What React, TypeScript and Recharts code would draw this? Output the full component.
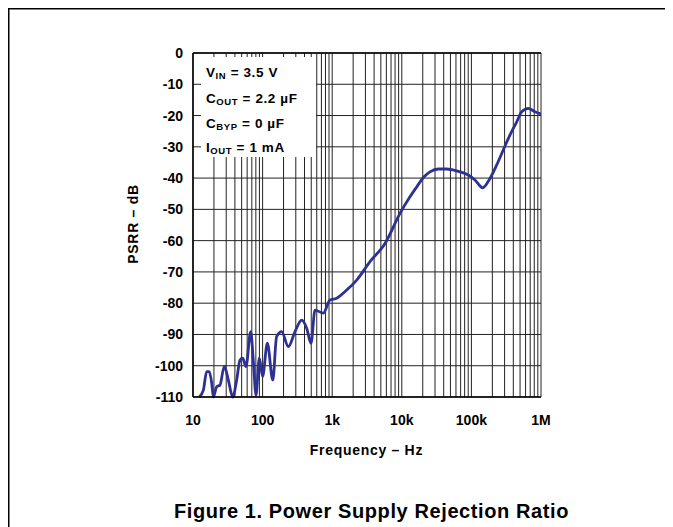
import React from "react";
import { LineChart, Line, XAxis, YAxis, CartesianGrid, ReferenceLine } from "recharts";

// values (Hz, dB)
const freqHz = [
  12.3, 14.1, 15.7, 17.1, 18.6, 19.6, 21.9, 24.4, 28.2, 32.2, 37.2, 42.4, 47.3, 51.8, 57.7,
  67.4, 73.5, 80.4, 89.7, 100, 117, 140, 159, 188, 234, 292, 364, 430, 496, 566, 745, 929,
  1160, 1616, 2250, 3490, 5740, 9420, 13100, 16400, 20400, 25400, 33500, 44200, 61500,
  90200, 112700, 145000, 185000, 231000, 287000, 359000, 448000, 528000, 658000, 820000,
  1000000,
];
const psrrDb = [
  -110, -107.8, -101.9, -101.9, -105.6, -110, -106.7, -106.2, -100.1, -104.6, -110, -104.6,
  -98.2, -97.6, -100.3, -89.1, -98.2, -109.4, -97.6, -103.5, -92.8, -104.6, -90.7, -89.1,
  -93.9, -89.1, -85.4, -88, -92.8, -82.2, -83.2, -79, -78.4, -75.8, -72.6, -66.7, -60.9,
  -51.3, -46, -42.8, -39.8, -38, -37.1, -37.1, -37.7, -39, -40.6, -43.1, -40.1, -35.8, -31,
  -26.2, -22, -18.8, -17.7, -18.8, -19.5,
];

const freqTicks = [10, 100, 1000, 10000, 100000, 1000000];
const freqTickLabels = ["10", "100", "1k", "10k", "100k", "1M"];
const psrrTicks = [0, -10, -20, -30, -40, -50, -60, -70, -80, -90, -100, -110];
const gridMultipliers = [1, 2, 3, 4, 5, 6, 7, 8, 9];

const data = freqHz.map((f, i) => ({ f, psrr: psrrDb[i] }));
const gridFreqs = freqTicks
  .slice(0, -1)
  .flatMap((d) => gridMultipliers.map((m) => d * m))
  .concat(freqTicks[freqTicks.length - 1]);

const font = "'Liberation Sans', Arial, Helvetica, sans-serif";
const tickStyle = { fontFamily: font, fontWeight: 700, fontSize: 14, fill: "#000" };
const gridColor = "#222";
const lineColor = "#2e3192";

export default function App() {
  return (
    <div style={{ position: "relative", width: 665, height: 519, fontFamily: font }}>
      <LineChart
        width={665}
        height={519}
        data={data}
        margin={{ top: 45, right: 132, left: 125, bottom: 100 }}
      >
        <CartesianGrid vertical={false} stroke={gridColor} strokeWidth={1} />
        {gridFreqs.map((f) => (
          <ReferenceLine key={f} x={f} stroke={gridColor} strokeWidth={1} />
        ))}
        <ReferenceLine y={0} stroke="#000" strokeWidth={1.5} />
        <XAxis
          dataKey="f"
          type="number"
          scale="log"
          domain={[10, 1000000]}
          ticks={freqTicks}
          interval={0}
          allowDataOverflow
          tickFormatter={(v) => freqTickLabels[freqTicks.indexOf(v)] ?? String(v)}
          tickSize={0}
          tickMargin={18}
          height={30}
          tick={tickStyle}
          axisLine={{ stroke: "#000", strokeWidth: 1.5 }}
        />
        <YAxis
          type="number"
          domain={[-110, 0]}
          ticks={psrrTicks}
          interval={0}
          tickSize={0}
          tickMargin={10}
          width={60}
          tick={tickStyle}
          axisLine={{ stroke: "#000", strokeWidth: 1.5 }}
        />
        <Line
          dataKey="psrr"
          type="monotone"
          stroke={lineColor}
          strokeWidth={2.8}
          dot={false}
          isAnimationActive={false}
        />
      </LineChart>
      <svg
        width={665}
        height={519}
        style={{ position: "absolute", left: 0, top: 0, pointerEvents: "none" }}
        fontFamily={font}
        fontWeight={700}
      >
        <path d="M0.75 519 V0.75 H665" fill="none" stroke="#000" strokeWidth={1.5} />
        <rect x={193} y={49} width={115} height={100} fill="#fff" />
        <g fontSize={13.5} fill="#000" letterSpacing={0.6}>
          <text x={198} y={69.3}>
            V<tspan fontSize={9.5} dy={2}>IN</tspan>
            <tspan dy={-2}> = 3.5 V</tspan>
          </text>
          <text x={198} y={95.3}>
            C<tspan fontSize={9.5} dy={2}>OUT</tspan>
            <tspan dy={-2}> = 2.2 µF</tspan>
          </text>
          <text x={198} y={120.3}>
            C<tspan fontSize={9.5} dy={2}>BYP</tspan>
            <tspan dy={-2}> = 0 µF</tspan>
          </text>
          <text x={198} y={143.7}>
            I<tspan fontSize={9.5} dy={2}>OUT</tspan>
            <tspan dy={-2}> = 1 mA</tspan>
          </text>
        </g>
        <text x={358.5} y={447} textAnchor="middle" fontSize={14} letterSpacing={0.7}>
          Frequency – Hz
        </text>
        <text
          x={130}
          y={216}
          textAnchor="middle"
          fontSize={14}
          letterSpacing={0.7}
          transform="rotate(-90 130 216)"
        >
          PSRR – dB
        </text>
        <text x={363.5} y={510} textAnchor="middle" fontSize={20} letterSpacing={0.6}>
          Figure 1. Power Supply Rejection Ratio
        </text>
      </svg>
    </div>
  );
}
